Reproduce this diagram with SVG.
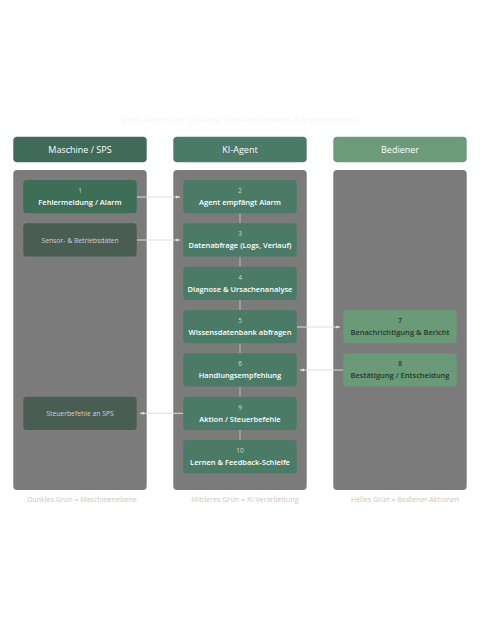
<svg xmlns="http://www.w3.org/2000/svg" width="480" height="620" viewBox="0 0 480 620">
<defs>
<style>
text{font-family:"Open Sans","Noto Sans","DejaVu Sans",sans-serif;text-anchor:middle}
.hdr{font-size:9px;fill:#ffffff}
.lane{fill:#7b7b7b}
.num{font-size:6.5px;fill:#c9dccf}
.lbl{font-size:7.5px;font-weight:600;fill:#ffffff}
.dnum{font-size:6.5px;font-weight:600;fill:#1f3a2c}
.dlbl{font-size:7.5px;font-weight:600;fill:#1f3a2c}
.plain{font-size:6.8px;fill:#d0d0d0}
.leg{font-size:7.1px;fill:#cbc7bb}
.agent{fill:#4b7b67}
.mach{fill:#3e6d58}
.machd{fill:#4a5d53}
.user{fill:#6a9a78}
.flow{stroke:#dedede;stroke-width:1;fill:none}
.vline{stroke:#a6a6a6;stroke-width:1.5;fill:none}
</style>
<marker id="ah" markerWidth="4" markerHeight="4" refX="4" refY="2" orient="auto" markerUnits="userSpaceOnUse">
<path d="M0,0.5 L4,2 L0,3.5 Z" fill="#dedede"/>
</marker>
</defs>
<rect width="480" height="620" fill="#ffffff"/>
<text x="240" y="123" style="font-size:9.4px;fill:#f6f6f6">Vom Alarm zur Lösung: Der intelligente Serviceprozess</text>

<g id="header-maschine"><rect x="13.3" y="136.7" width="133.4" height="25.6" rx="4" fill="#3f6b58"/><text class="hdr" x="80" y="152.7">Maschine / SPS</text></g>
<g id="header-agent"><rect x="173.3" y="136.7" width="133.4" height="25.6" rx="4" fill="#4b7a66"/><text class="hdr" x="240" y="152.7">KI-Agent</text></g>
<g id="header-bediener"><rect x="333.3" y="136.7" width="133.4" height="25.6" rx="4" fill="#6b9b7b"/><text class="hdr" x="400" y="152.7">Bediener</text></g>

<g id="lanes">
<rect class="lane" x="13.3" y="170" width="133.4" height="320" rx="4"/>
<rect class="lane" x="173.3" y="170" width="133.4" height="320" rx="4"/>
<rect class="lane" x="333.3" y="170" width="133.4" height="320" rx="4"/>
</g>

<g id="connectors">
<line class="vline" x1="240" y1="213.3" x2="240" y2="223.3"/>
<line class="vline" x1="240" y1="256.7" x2="240" y2="266.7"/>
<line class="vline" x1="240" y1="300" x2="240" y2="310"/>
<line class="vline" x1="240" y1="343.3" x2="240" y2="353.3"/>
<line class="vline" x1="240" y1="386.7" x2="240" y2="396.7"/>
<line class="vline" x1="240" y1="430" x2="240" y2="440"/>
<line class="flow" x1="136.7" y1="197" x2="180" y2="197" marker-end="url(#ah)"/>
<line class="flow" x1="136.7" y1="240" x2="180" y2="240" marker-end="url(#ah)"/>
<line class="flow" x1="296.7" y1="327" x2="340" y2="327" marker-end="url(#ah)"/>
<line class="flow" x1="343.3" y1="370" x2="300" y2="370" marker-end="url(#ah)"/>
<line class="flow" x1="183.3" y1="413.3" x2="140" y2="413.3" marker-end="url(#ah)"/>
</g>

<g id="n1"><rect class="mach" x="23.3" y="180" width="113.4" height="33.3" rx="3.5"/><text class="num" x="80" y="193">1</text><text class="lbl" x="80" y="205">Fehlermeldung / Alarm</text></g>
<g id="n-sensor"><rect class="machd" x="23.3" y="223.3" width="113.4" height="33.3" rx="3.5"/><text class="plain" x="80" y="242.5">Sensor- &amp; Betriebsdaten</text></g>
<g id="n-steuer"><rect class="machd" x="23.3" y="396.7" width="113.4" height="33.3" rx="3.5"/><text class="plain" x="80" y="415.8">Steuerbefehle an SPS</text></g>

<g id="n2"><rect class="agent" x="183.3" y="180" width="113.4" height="33.3" rx="3.5"/><text class="num" x="240" y="193">2</text><text class="lbl" x="240" y="205">Agent empfängt Alarm</text></g>
<g id="n3"><rect class="agent" x="183.3" y="223.3" width="113.4" height="33.3" rx="3.5"/><text class="num" x="240" y="236.3">3</text><text class="lbl" x="240" y="248.3">Datenabfrage (Logs, Verlauf)</text></g>
<g id="n4"><rect class="agent" x="183.3" y="266.7" width="113.4" height="33.3" rx="3.5"/><text class="num" x="240" y="279.7">4</text><text class="lbl" x="240" y="291.7">Diagnose &amp; Ursachenanalyse</text></g>
<g id="n5"><rect class="agent" x="183.3" y="310" width="113.4" height="33.3" rx="3.5"/><text class="num" x="240" y="323">5</text><text class="lbl" x="240" y="335">Wissensdatenbank abfragen</text></g>
<g id="n6"><rect class="agent" x="183.3" y="353.3" width="113.4" height="33.3" rx="3.5"/><text class="num" x="240" y="366.3">6</text><text class="lbl" x="240" y="378.3">Handlungsempfehlung</text></g>
<g id="n9"><rect class="agent" x="183.3" y="396.7" width="113.4" height="33.3" rx="3.5"/><text class="num" x="240" y="409.7">9</text><text class="lbl" x="240" y="421.7">Aktion / Steuerbefehle</text></g>
<g id="n10"><rect class="agent" x="183.3" y="440" width="113.4" height="33.3" rx="3.5"/><text class="num" x="240" y="453">10</text><text class="lbl" x="240" y="465">Lernen &amp; Feedback-Schleife</text></g>

<g id="n7"><rect class="user" x="343.3" y="310" width="113.4" height="33.3" rx="3.5"/><text class="dnum" x="400" y="323">7</text><text class="dlbl" x="400" y="335">Benachrichtigung &amp; Bericht</text></g>
<g id="n8"><rect class="user" x="343.3" y="353.3" width="113.4" height="33.3" rx="3.5"/><text class="dnum" x="400" y="366.3">8</text><text class="dlbl" x="400" y="378.3">Bestätigung / Entscheidung</text></g>

<g id="legend">
<text class="leg" x="82" y="502">Dunkles Grün = Maschinenebene</text>
<text class="leg" x="245" y="502">Mittleres Grün = KI-Verarbeitung</text>
<text class="leg" x="405" y="502">Helles Grün = Bediener-Aktionen</text>
</g>
</svg>
